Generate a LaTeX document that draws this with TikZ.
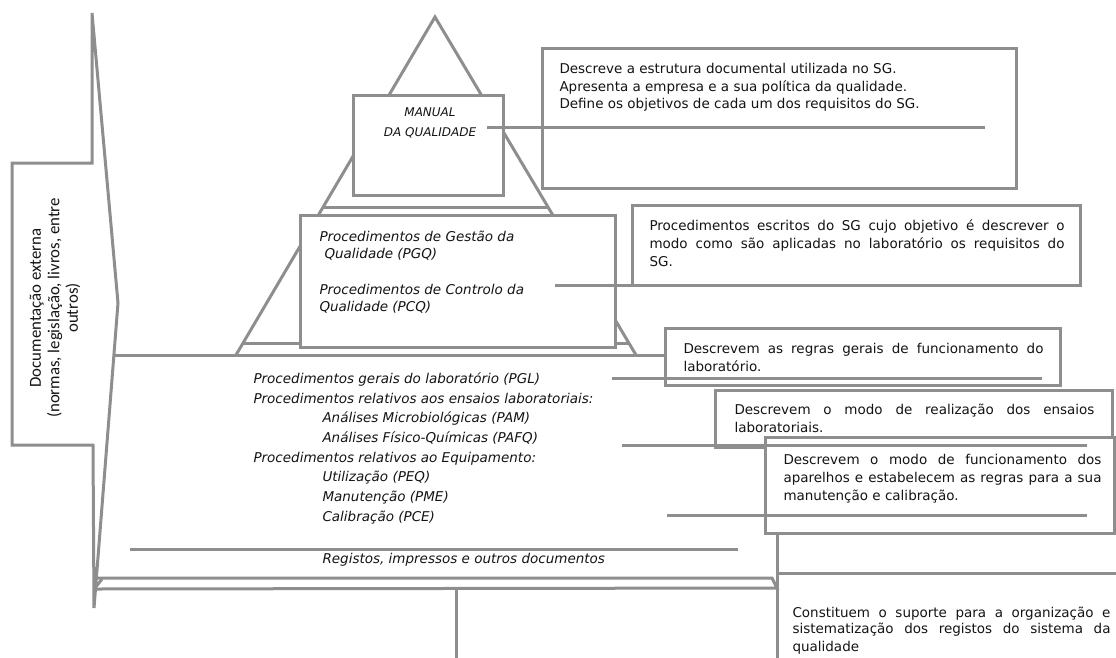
\documentclass[tikz,border=0pt]{standalone}
\usepackage{fontspec}
\setmainfont{DejaVu Sans}
\newfontfamily\extfont{Carlito}
\usepackage{tikz}
\usetikzlibrary{positioning}
\definecolor{linegray}{RGB}{142,142,142}
\definecolor{inkgray}{RGB}{20,20,20}

\begin{document}
\begin{tikzpicture}[x=1pt, y=-1pt, line width=3pt, font=\fontsize{13.5}{18}\selectfont, text=inkgray,
  gline/.style={draw=linegray},
  wbox/.style={draw=linegray, fill=white, inner sep=0pt, outer sep=0pt, anchor=north west},
  desc/.style={anchor=north west, inner sep=0pt, text width=#1, align=justify},
  lev/.style={anchor=north west, inner sep=0pt, align=left, font=\fontsize{13.5}{17}\selectfont\itshape}]
  \useasboundingbox (0,0) rectangle (1116,657);
  \draw[gline, fill=white] (12,163) -- (92,163) -- (92,13) -- (118,303) -- (94,608) -- (93,445) -- (12,445) -- cycle;
  \node[rotate=90, align=center, inner sep=0pt, font=\extfont\fontsize{16.8}{18.5}\selectfont] (ext) at (55,308) {Documentação externa\\(normas, legislação, livros, entre\\outros)};
  \draw[gline] (236,355) -- (435,17) -- (636,355);
  \draw[gline] (323,207) -- (548,207);
  \draw[gline] (243,343) -- (629,343);
  \draw[gline] (115,355) -- (680,355);
  \draw[gline] (97,578) -- (772,578) -- (777,588) -- (93,589);
  \draw[gline] (95,588) -- (102,579);
  \node[wbox, minimum width=150pt, minimum height=100pt] (man) at (353,95) {};
  \node[wbox, minimum width=315pt, minimum height=132pt] (pgq) at (300,215) {};
  \node[wbox, minimum width=474pt, minimum height=140pt] (d1) at (542,48) {};
  \node[wbox, minimum width=448pt, minimum height=80pt] (d2) at (632,205) {};
  \node[wbox, minimum width=395pt, minimum height=57pt] (d3) at (665,328) {};
  \node[wbox, minimum width=397pt, minimum height=57pt] (d4) at (715,390) {};
  \node[wbox, minimum width=349pt, minimum height=96pt] (d5) at (765,437) {};
  \coordinate (d6a) at (777,533);
  \coordinate (d6b) at (777,660);
  \coordinate (d6c) at (1120,573);
  \draw[gline] (d6a) -- (d6b);
  \draw[gline] (d6a |- d6c) -- (d6c);
  \coordinate (base) at (456,589);
  \coordinate (baseend) at (456,660);
  \draw[gline] (base) -- (baseend);
  \coordinate (c1a) at (487,127);
  \coordinate (c1b) at (985,127);
  \coordinate (c2a) at (555,285);
  \coordinate (c3a) at (612,378);
  \coordinate (c3b) at (1042,378);
  \coordinate (c4a) at (622,445);
  \coordinate (c4b) at (1087,445);
  \coordinate (c5a) at (667,515);
  \coordinate (c5b) at (1087,515);
  \coordinate (c6a) at (130,549);
  \coordinate (c6b) at (738,549);
  \draw[gline] (c1a) -- (c1b);
  \draw[gline] (c2a) -- (d2.south west);
  \draw[gline] (c3a) -- (c3b);
  \draw[gline] (c4a) -- (c4b);
  \draw[gline] (c5a) -- (c5b);
  \draw[gline] (c6a) -- (c6b);
  \node[align=center, inner sep=0pt, font=\fontsize{12}{20}\selectfont\itshape] (mant) at (430,123) {MANUAL\\DA QUALIDADE};
  \node[lev] (pgqt) at (318,230) {Procedimentos de Gestão da\\\hspace*{5pt}Qualidade (PGQ)\\[19pt]Procedimentos de Controlo da\\Qualidade (PCQ)};
  \node[lev, font=\fontsize{13.5}{19.7}\selectfont\itshape] (pglt) at (252,371) {Procedimentos gerais do laboratório (PGL)\\Procedimentos relativos aos ensaios laboratoriais:\\\hspace*{69pt}Análises Microbiológicas (PAM)\\\hspace*{69pt}Análises Físico-Químicas (PAFQ)\\Procedimentos relativos ao Equipamento:\\\hspace*{69pt}Utilização (PEQ)\\\hspace*{69pt}Manutenção (PME)\\\hspace*{69pt}Calibração (PCE)};
  \node[lev] (regt) at (321,552) {Registos, impressos e outros documentos};
  \node[anchor=north west, inner sep=0pt, align=left, font=\fontsize{13.5}{17.5}\selectfont] (t1) at (558,62) {Descreve a estrutura documental utilizada no SG.\\Apresenta a empresa e a sua política da qualidade.\\Define os objetivos de cada um dos requisitos do SG.};
  \node[desc=415pt] (t2) at (648,218) {Procedimentos escritos do SG cujo objetivo é descrever o\linebreak modo como são aplicadas no laboratório os requisitos do\linebreak SG.};
  \node[desc=360pt] (t3) at (682,342) {Descrevem as regras gerais de funcionamento do\linebreak laboratório.};
  \node[desc=360pt] (t4) at (733,403) {Descrevem o modo de realização dos ensaios\linebreak laboratoriais.};
  \node[desc=318pt] (t5) at (782,453) {Descrevem o modo de funcionamento dos\linebreak aparelhos e estabelecem as regras para a sua\linebreak manutenção e calibração.};
  \node[desc=318pt, font=\fontsize{13.5}{17}\selectfont] (t6) at (791,605) {Constituem o suporte para a organização e\linebreak sistematização dos registos do sistema da\linebreak qualidade};
\end{tikzpicture}
\end{document}
